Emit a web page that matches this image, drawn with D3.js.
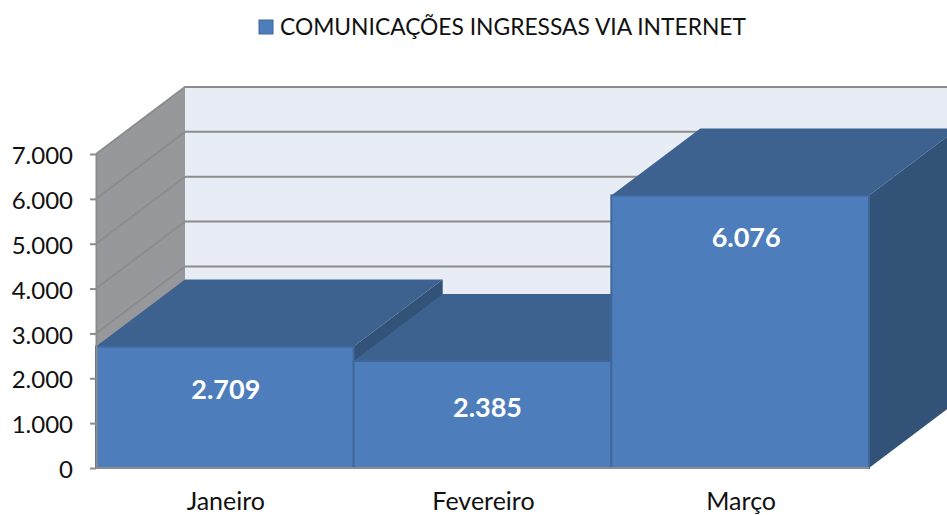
<!DOCTYPE html>
<html>
<head>
    <title>Comunicações ingressas via internet</title>
    <script src="https://d3js.org/d3.v7.min.js"></script>
    <style>
        html, body { margin: 0; padding: 0; background: #fff; overflow: hidden; }
        text { font-family: Lato, "Open Sans", sans-serif; fill: #111; }
        .y-axis path, .y-axis line { stroke: #8c8c8c; stroke-width: 2; }
        .grid { stroke: #8c8c8c; stroke-width: 2; fill: none; }
    </style>
</head>
<body>
    <script>
        // Data
        const categories = ["Janeiro", "Fevereiro", "Março"];
        const values = [2709, 2385, 6076];
        const yTicks = [0, 1000, 2000, 3000, 4000, 5000, 6000, 7000];
        const seriesName = "COMUNICAÇÕES INGRESSAS VIA INTERNET";

        const width = 947;
        const height = 515;

        // 3D depth of the chart, back wall is shifted by this much
        const depthX = 89;
        const depthY = -67;
        const plotLeft = 96, plotRight = 869, plotBottom = 468, plotTop = 154;

        const svg = d3.select("body").append("svg")
            .attr("width", width)
            .attr("height", height)
            .style("display", "block");

        const xScale = d3.scaleBand().domain(categories).range([plotLeft, plotRight]);
        const yScale = d3.scaleLinear().domain([0, 7000]).range([plotBottom, plotTop]);

        // thousands separator is a dot in pt-BR
        const fmt = d3.formatLocale({ decimal: ",", thousands: ".", grouping: [3], currency: ["R$", ""] }).format(",d");

        const pts = a => a.map(p => p.join(",")).join(" ");

        // Back wall
        svg.append("polygon")
            .attr("points", pts([
                [plotLeft + depthX, plotTop + depthY], [width, plotTop + depthY],
                [width, plotBottom + depthY], [plotLeft + depthX, plotBottom + depthY]
            ]))
            .attr("fill", "#e8ecf5");

        // Side wall
        svg.append("polygon")
            .attr("points", pts([
                [plotLeft, plotTop], [plotLeft + depthX, plotTop + depthY],
                [plotLeft + depthX, plotBottom + depthY], [plotLeft, plotBottom]
            ]))
            .attr("fill", "#96989b");

        // Gridlines on both walls
        svg.append("g").selectAll("polyline")
            .data(yTicks)
            .enter()
            .append("polyline")
            .attr("class", "grid")
            .attr("points", d => pts([
                [plotLeft, yScale(d)],
                [plotLeft + depthX, yScale(d) + depthY],
                [width, yScale(d) + depthY]
            ]));

        // Bars, left to right so each one overlaps the previous side face
        const bars = svg.append("g").selectAll("g")
            .data(categories.map((c, i) => ({ c, v: values[i], i })))
            .enter()
            .append("g");

        // side face
        bars.append("polygon")
            .attr("points", d => {
                const x1 = xScale(d.c) + xScale.bandwidth(), y1 = yScale(d.v);
                return pts([[x1, y1], [x1 + depthX, y1 + depthY], [x1 + depthX, plotBottom + depthY], [x1, plotBottom]]);
            })
            .attr("fill", "#325277");

        // top face
        bars.append("polygon")
            .attr("points", d => {
                const x0 = xScale(d.c), x1 = x0 + xScale.bandwidth(), y1 = yScale(d.v);
                return pts([[x0, y1], [x0 + depthX, y1 + depthY], [x1 + depthX, y1 + depthY], [x1, y1]]);
            })
            .attr("fill", "#3d6290");

        // front face
        bars.append("rect")
            .attr("x", d => xScale(d.c))
            .attr("y", d => yScale(d.v))
            .attr("width", xScale.bandwidth())
            .attr("height", d => plotBottom - yScale(d.v))
            .attr("fill", "#4d7ebb")
            .attr("stroke", "#3f679a")
            .attr("stroke-width", 2);

        // Data labels, hand placed in the original so each gets a small nudge
        const labelDx = [1, 5, 6];
        const labelDy = [43, 47, 42];
        bars.append("text")
            .attr("x", d => xScale(d.c) + xScale.bandwidth() / 2 + labelDx[d.i])
            .attr("y", d => yScale(d.v) + labelDy[d.i])
            .attr("dy", "0.35em")
            .attr("text-anchor", "middle")
            .attr("font-size", 27)
            .attr("font-weight", 700)
            .style("fill", "#fff")
            .text(d => fmt(d.v));

        // Y axis
        const yAxis = d3.axisLeft(yScale)
            .tickValues(yTicks)
            .tickFormat(fmt)
            .tickSize(6)
            .tickSizeOuter(0)
            .tickPadding(17);
        const yG = svg.append("g")
            .attr("class", "y-axis")
            .attr("transform", `translate(${plotLeft},0)`)
            .call(yAxis);
        yG.attr("font-family", null);
        yG.selectAll("text").attr("font-size", 24).attr("dy", "0.4em");

        // X axis line
        svg.append("line")
            .attr("x1", plotLeft).attr("x2", plotRight)
            .attr("y1", plotBottom).attr("y2", plotBottom)
            .attr("stroke", "#8c8c8c")
            .attr("stroke-width", 2);

        // Category labels
        svg.append("g").selectAll("text")
            .data(categories)
            .enter()
            .append("text")
            .attr("x", d => xScale(d) + xScale.bandwidth() / 2 + 1)
            .attr("y", 501)
            .attr("dy", "0.35em")
            .attr("text-anchor", "middle")
            .attr("font-size", 25)
            .text(d => d);

        // Legend
        svg.append("rect")
            .attr("x", 259).attr("y", 20)
            .attr("width", 14).attr("height", 14)
            .attr("fill", "#4d7ebb")
            .attr("stroke", "#3f679a")
            .attr("stroke-width", 1);
        svg.append("text")
            .attr("x", 280)
            .attr("y", 27)
            .attr("dy", "0.35em")
            .attr("font-size", 24)
            .attr("textLength", 466)
            .attr("lengthAdjust", "spacingAndGlyphs")
            .text(seriesName);
    </script>
</body>
</html>
